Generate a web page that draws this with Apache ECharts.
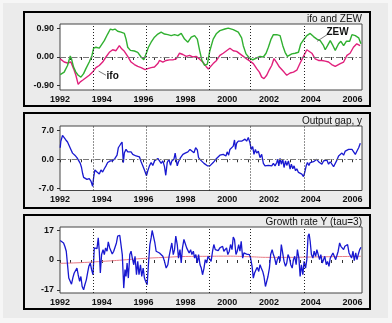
<!DOCTYPE html>
<html>
<head>
<meta charset="UTF-8">
<script src="https://cdn.jsdelivr.net/npm/echarts@6/dist/echarts.min.js"></script>
<style>
  html, body { margin: 0; padding: 0; background: #f6f6f6; }
  #chart { width: 392px; height: 323px; }
</style>
</head>
<body>
<div id="chart"></div>
<script>
// business cycle turning points (vertical dotted lines)
var turningPoints = [1993.58, 1996.15, 1999.15, 2001.09, 2003.69];

// panel titles
var titles = ['ifo and ZEW', 'Output gap, y', 'Growth rate Y (tau=3)'];

// ZEW expectations (scaled)
var zew = [
  [1992.01,-0.56],[1992.20,-0.48],[1992.36,-0.27],[1992.49,0.03],[1992.55,-0.06],[1992.65,-0.32],
  [1992.76,-0.48],[1992.87,-0.58],[1993.00,-0.64],[1993.13,-0.53],[1993.24,-0.37],[1993.40,-0.16],
  [1993.53,0.05],[1993.61,0.28],[1993.72,0.31],[1993.88,0.28],[1993.96,0.36],[1994.12,0.52],
  [1994.28,0.73],[1994.41,0.89],[1994.52,0.86],[1994.63,0.89],[1994.76,0.82],[1994.92,0.79],
  [1995.08,0.75],[1995.16,0.57],[1995.24,0.31],[1995.37,0.21],[1995.56,0.19],[1995.72,0.15],
  [1995.88,0.00],[1996.01,-0.09],[1996.12,0.10],[1996.23,0.31],[1996.36,0.47],[1996.52,0.63],
  [1996.68,0.73],[1996.84,0.79],[1997.00,0.73],[1997.16,0.71],[1997.32,0.68],[1997.48,0.71],
  [1997.64,0.68],[1997.80,0.75],[1997.96,0.57],[1998.12,0.47],[1998.28,0.63],[1998.44,0.68],
  [1998.57,0.57],[1998.68,0.21],[1998.79,-0.11],[1998.92,-0.27],[1999.05,-0.23],[1999.17,0.20],
  [1999.33,0.57],[1999.49,0.75],[1999.65,0.84],[1999.89,0.89],[2000.05,0.92],[2000.29,0.87],
  [2000.53,0.79],[2000.69,0.61],[2000.77,0.36],[2000.90,0.10],[2001.06,-0.03],[2001.22,-0.09],
  [2001.38,-0.04],[2001.57,0.02],[2001.73,0.00],[2001.86,0.12],[2001.97,0.31],[2002.10,0.57],
  [2002.21,0.71],[2002.37,0.71],[2002.53,0.68],[2002.66,0.36],[2002.77,0.15],[2002.88,0.02],
  [2003.09,0.10],[2003.25,0.12],[2003.41,0.15],[2003.52,0.42],[2003.65,0.54],[2003.81,0.68],
  [2003.97,0.75],[2004.13,0.65],[2004.29,0.57],[2004.45,0.52],[2004.61,0.36],[2004.69,0.23],
  [2004.80,0.36],[2004.93,0.52],[2005.06,0.36],[2005.17,0.21],[2005.33,0.42],[2005.44,0.50],
  [2005.57,0.36],[2005.70,0.50],[2005.86,0.50],[2005.97,0.71],[2006.13,0.68],[2006.29,0.61],
  [2006.40,0.42]
];

// ifo business climate (scaled)
var ifo = [
  [1992.01,-0.06],[1992.20,-0.16],[1992.36,-0.19],[1992.52,-0.16],[1992.65,-0.37],[1992.76,-0.58],
  [1992.87,-0.87],[1992.97,-0.79],[1993.08,-0.74],[1993.24,-0.66],[1993.40,-0.58],[1993.56,-0.48],
  [1993.72,-0.34],[1993.88,-0.27],[1994.04,-0.16],[1994.20,0.00],[1994.36,0.15],[1994.52,0.23],
  [1994.68,0.20],[1994.84,0.36],[1994.95,0.26],[1995.08,0.18],[1995.24,0.02],[1995.40,-0.16],
  [1995.56,-0.24],[1995.72,-0.30],[1995.88,-0.34],[1996.07,-0.40],[1996.20,-0.37],[1996.36,-0.34],
  [1996.52,-0.32],[1996.68,-0.21],[1996.76,-0.11],[1996.92,-0.16],[1997.08,-0.11],[1997.24,-0.09],
  [1997.40,-0.09],[1997.56,-0.06],[1997.72,0.12],[1997.88,0.08],[1998.04,0.02],[1998.20,0.05],
  [1998.35,0.00],[1998.51,0.02],[1998.67,-0.06],[1998.83,-0.16],[1998.99,-0.30],[1999.10,-0.38],
  [1999.33,-0.21],[1999.49,-0.11],[1999.65,0.05],[1999.81,0.12],[1999.97,0.20],[2000.13,0.28],
  [2000.29,0.20],[2000.45,0.18],[2000.61,0.10],[2000.77,0.02],[2000.93,-0.06],[2001.09,-0.13],
  [2001.25,-0.21],[2001.41,-0.37],[2001.54,-0.48],[2001.65,-0.64],[2001.76,-0.69],[2001.89,-0.58],
  [2002.02,-0.40],[2002.13,-0.27],[2002.24,-0.05],[2002.37,-0.18],[2002.50,-0.32],[2002.61,-0.40],
  [2002.72,-0.48],[2002.85,-0.58],[2003.01,-0.51],[2003.17,-0.48],[2003.33,-0.42],[2003.49,-0.19],
  [2003.65,0.02],[2003.81,0.23],[2003.89,0.29],[2004.05,0.12],[2004.21,-0.06],[2004.37,-0.11],
  [2004.53,-0.11],[2004.69,-0.13],[2004.85,-0.16],[2005.00,-0.24],[2005.17,-0.30],[2005.25,-0.34],
  [2005.41,-0.21],[2005.57,-0.16],[2005.73,0.05],[2005.88,0.12],[2006.04,0.31],[2006.20,0.42],
  [2006.36,0.36]
];

// output gap y
var outputGap = [
  [1992.01,2.8],[1992.04,4.4],[1992.12,5.8],[1992.20,5.5],[1992.28,4.7],[1992.36,4.2],[1992.44,4.0],
  [1992.52,2.4],[1992.60,1.5],[1992.65,1.8],[1992.71,1.0],[1992.81,0.4],[1992.87,0.0],[1992.97,-1.0],
  [1993.03,-2.0],[1993.08,-3.4],[1993.13,-4.4],[1993.19,-4.2],[1993.29,-4.9],[1993.40,-4.7],[1993.48,-5.3],
  [1993.56,-6.6],[1993.61,-4.4],[1993.67,-2.6],[1993.77,-3.1],[1993.88,-3.6],[1993.96,-2.6],[1994.04,-3.1],
  [1994.12,-2.3],[1994.20,-1.6],[1994.28,-0.8],[1994.41,-0.4],[1994.52,-0.4],[1994.63,0.2],[1994.73,1.0],
  [1994.79,2.8],[1994.89,3.6],[1994.97,4.2],[1995.03,-0.8],[1995.08,1.6],[1995.16,2.4],[1995.24,1.8],
  [1995.32,2.0],[1995.40,1.8],[1995.48,1.2],[1995.56,1.6],[1995.64,0.8],[1995.72,0.4],[1995.80,0.6],
  [1995.88,-0.6],[1995.96,-1.6],[1996.04,-2.6],[1996.14,-4.0],[1996.20,-2.8],[1996.28,-1.6],[1996.36,-0.8],
  [1996.44,-1.5],[1996.52,-0.4],[1996.60,-0.8],[1996.68,0.2],[1996.76,-0.4],[1996.84,-1.0],[1996.92,-0.4],
  [1997.00,-1.8],[1997.06,-3.9],[1997.13,-0.8],[1997.21,0.0],[1997.29,-1.5],[1997.35,-0.4],[1997.45,0.0],
  [1997.51,1.5],[1997.56,1.8],[1997.61,-1.6],[1997.67,-0.6],[1997.77,0.4],[1997.88,1.2],[1997.99,1.5],
  [1998.12,1.8],[1998.22,2.4],[1998.31,2.0],[1998.41,1.6],[1998.49,2.8],[1998.57,2.3],[1998.63,0.4],
  [1998.73,-0.2],[1998.81,0.0],[1998.89,-1.0],[1998.97,-0.6],[1999.05,-1.6],[1999.17,-1.6],[1999.25,-1.2],
  [1999.33,-0.8],[1999.41,-0.4],[1999.49,0.2],[1999.57,0.4],[1999.65,1.0],[1999.73,0.8],[1999.81,1.2],
  [1999.89,1.6],[1999.94,0.8],[2000.00,1.8],[2000.07,1.0],[2000.13,2.4],[2000.21,2.0],[2000.29,3.2],
  [2000.35,4.7],[2000.40,2.4],[2000.45,3.9],[2000.53,4.4],[2000.61,4.2],[2000.69,4.4],[2000.77,4.7],
  [2000.85,4.9],[2000.93,4.4],[2001.01,5.3],[2001.09,4.0],[2001.15,2.4],[2001.22,3.1],[2001.28,1.2],
  [2001.35,2.4],[2001.41,1.5],[2001.49,2.0],[2001.57,0.4],[2001.65,1.2],[2001.73,-1.0],[2001.81,-1.6],
  [2001.89,-2.0],[2001.97,-1.5],[2002.05,-1.2],[2002.13,-1.6],[2002.21,-1.0],[2002.29,-1.6],[2002.37,-0.8],
  [2002.42,0.0],[2002.47,-1.6],[2002.53,0.2],[2002.59,-1.2],[2002.66,0.0],[2002.72,-2.0],[2002.79,-0.4],
  [2002.85,-1.5],[2002.93,-0.4],[2003.01,-2.4],[2003.07,-1.2],[2003.14,-2.3],[2003.20,-1.6],[2003.27,-2.8],
  [2003.33,-2.3],[2003.41,-3.2],[2003.49,-2.8],[2003.57,-3.6],[2003.65,-4.2],[2003.71,-3.2],[2003.78,-1.6],
  [2003.84,-0.8],[2003.91,-1.5],[2003.97,-0.8],[2004.05,-1.2],[2004.13,-0.6],[2004.21,-1.0],[2004.29,0.0],
  [2004.37,-0.6],[2004.45,-0.2],[2004.53,-1.2],[2004.61,-0.4],[2004.69,-0.8],[2004.77,-0.2],[2004.85,-1.2],
  [2004.93,-0.6],[2005.01,-0.8],[2005.09,-1.8],[2005.17,-1.5],[2005.25,-0.2],[2005.33,0.8],[2005.41,0.4],
  [2005.49,1.5],[2005.57,1.0],[2005.65,2.0],[2005.73,1.6],[2005.81,2.4],[2005.89,2.0],[2005.97,2.4],
  [2006.05,2.3],[2006.13,1.2],[2006.21,2.0],[2006.29,2.8],[2006.37,3.9]
];

// growth rate Y (tau=3)
var growth = [
  [1992.01,11.1],[1992.07,11.7],[1992.17,9.7],[1992.23,7.8],[1992.30,5.0],[1992.36,-2.7],[1992.42,-10.3],
  [1992.49,-11.3],[1992.55,-13.8],[1992.62,-9.9],[1992.68,-7.4],[1992.74,-6.5],[1992.81,-4.6],[1992.87,-8.4],
  [1992.94,-12.2],[1993.00,-9.4],[1993.06,-15.1],[1993.13,-17.0],[1993.19,-14.1],[1993.26,-11.3],[1993.32,-7.4],
  [1993.38,-3.6],[1993.45,-1.7],[1993.51,-5.5],[1993.58,-8.4],[1993.64,6.9],[1993.70,7.8],[1993.77,6.5],
  [1993.83,12.6],[1993.88,5.0],[1993.93,-7.4],[1993.99,3.1],[1994.06,5.9],[1994.12,3.1],[1994.18,6.9],
  [1994.25,5.0],[1994.31,10.3],[1994.38,6.9],[1994.44,5.9],[1994.50,3.4],[1994.57,5.0],[1994.63,5.9],
  [1994.70,9.7],[1994.76,13.6],[1994.86,14.1],[1994.92,13.6],[1994.98,3.1],[1995.05,-16.0],[1995.11,-5.5],
  [1995.16,-9.4],[1995.21,-1.7],[1995.27,-10.3],[1995.34,3.1],[1995.40,5.0],[1995.46,1.1],[1995.53,-2.7],
  [1995.59,2.1],[1995.66,-8.4],[1995.72,-0.8],[1995.78,-8.4],[1995.85,-2.7],[1995.91,-9.4],[1995.98,-4.6],
  [1996.04,-10.3],[1996.10,-12.2],[1996.17,-14.1],[1996.23,-2.7],[1996.30,8.8],[1996.36,12.6],[1996.41,16.8],
  [1996.47,13.6],[1996.54,9.7],[1996.60,5.0],[1996.68,5.9],[1996.76,4.0],[1996.84,5.0],[1996.92,2.1],
  [1997.00,-0.8],[1997.08,-4.6],[1997.16,-2.7],[1997.22,2.1],[1997.29,3.1],[1997.35,9.7],[1997.42,3.1],
  [1997.48,5.9],[1997.54,13.6],[1997.61,8.8],[1997.67,1.1],[1997.74,5.9],[1997.80,-1.7],[1997.86,6.9],
  [1997.93,11.7],[1997.99,10.7],[1998.06,6.9],[1998.12,5.9],[1998.18,4.0],[1998.25,5.9],[1998.31,3.1],
  [1998.38,5.0],[1998.44,1.1],[1998.50,3.1],[1998.57,-1.7],[1998.63,3.1],[1998.70,-2.7],[1998.76,-4.6],
  [1998.82,-8.4],[1998.89,-4.6],[1998.95,0.2],[1999.02,-1.7],[1999.08,2.1],[1999.17,1.5],[1999.23,-0.8],
  [1999.30,5.0],[1999.36,8.8],[1999.43,5.9],[1999.49,6.9],[1999.57,5.3],[1999.65,6.9],[1999.71,5.9],
  [1999.78,7.8],[1999.84,5.0],[1999.91,4.0],[1999.97,6.9],[2000.03,3.1],[2000.10,5.0],[2000.16,8.8],
  [2000.23,5.9],[2000.29,13.0],[2000.35,11.7],[2000.42,3.1],[2000.48,5.0],[2000.55,8.8],[2000.61,5.0],
  [2000.67,10.7],[2000.74,1.1],[2000.80,4.0],[2000.87,3.1],[2000.93,3.4],[2000.99,4.0],[2001.06,3.1],
  [2001.12,1.1],[2001.19,-3.6],[2001.25,-10.3],[2001.31,-7.4],[2001.38,-5.5],[2001.44,-4.2],[2001.51,-6.5],
  [2001.57,-2.7],[2001.63,-4.6],[2001.70,-6.5],[2001.76,-9.4],[2001.83,-15.1],[2001.89,-15.7],[2001.95,-9.4],
  [2002.02,-4.6],[2002.08,3.1],[2002.15,5.9],[2002.21,3.1],[2002.27,1.1],[2002.34,-2.7],[2002.40,0.2],
  [2002.47,2.1],[2002.53,-0.8],[2002.59,8.8],[2002.66,7.8],[2002.72,-0.8],[2002.79,-3.6],[2002.85,-1.7],
  [2002.91,3.1],[2002.98,1.1],[2003.04,-2.7],[2003.11,-4.6],[2003.17,0.2],[2003.23,2.1],[2003.30,-2.7],
  [2003.36,5.9],[2003.43,1.1],[2003.49,-9.4],[2003.55,-2.7],[2003.62,-8.4],[2003.68,-0.8],[2003.75,-4.6],
  [2003.81,0.2],[2003.87,13.6],[2003.92,14.9],[2003.97,10.7],[2004.03,3.1],[2004.10,1.1],[2004.16,5.0],
  [2004.23,2.1],[2004.29,5.9],[2004.35,5.0],[2004.42,0.2],[2004.48,3.1],[2004.55,-1.7],[2004.61,0.2],
  [2004.67,2.1],[2004.74,-2.7],[2004.80,-0.8],[2004.87,-3.6],[2004.93,1.1],[2004.99,0.2],[2005.06,4.0],
  [2005.12,3.1],[2005.19,0.2],[2005.25,1.1],[2005.31,5.0],[2005.38,9.7],[2005.44,7.8],[2005.51,6.9],
  [2005.57,5.9],[2005.63,7.8],[2005.70,6.9],[2005.76,8.8],[2005.83,4.0],[2005.89,5.0],[2005.95,1.1],
  [2006.02,5.0],[2006.08,-0.4],[2006.15,4.0],[2006.21,0.2],[2006.27,3.1],[2006.34,5.9],[2006.40,7.3]
];

// trend of growth rate (red line)
var growthTrend = [
  [1992.0,-1.9],[1993.0,-1.5],[1994.0,-0.8],[1995.0,0.0],[1996.0,0.9],[1997.0,1.5],[1998.0,2.0],
  [1999.0,2.1],[2000.0,2.2],[2001.0,1.9],[2002.0,1.5],[2003.0,1.5],[2004.0,1.7],[2005.0,1.9],[2006.4,2.1]
];

// y-axis tick labels per panel
var yTicks = [[-0.9, 0, 0.9], [-7, 0, 7], [-17, 0, 17]];
var yDigits = [2, 1, 0];
var yRange = [[-1.05, 1.05], [-7.6, 8.1], [-18.8, 18.8]];

var font = 'Liberation Sans';
var chart = echarts.init(document.getElementById('chart'));

var gridTops = [24, 126, 227];
var gridHeights = [66, 64.5, 66];
var panelBoxes = [[12, 94], [113, 95], [215, 94]];

var grids = [], xAxes = [], yAxes = [], titleList = [], graphics = [];

graphics.push({
  type: 'rect', z: -2,
  shape: { x: 3, y: 3, width: 385, height: 315 },
  style: { fill: '#ebebeb', stroke: null }
});

for (var i = 0; i < 3; i++) {
  graphics.push({
    type: 'rect', z: -1,
    shape: { x: 24, y: panelBoxes[i][0], width: 346, height: panelBoxes[i][1] },
    style: { fill: '#ebebeb', stroke: '#000', lineWidth: 2 }
  });
  grids.push({
    left: 60, width: 302, top: gridTops[i], height: gridHeights[i],
    show: true, backgroundColor: '#fff', borderColor: '#444', borderWidth: 1
  });
  xAxes.push({
    type: 'value', gridIndex: i, min: 1992, max: 2006.45, interval: 0.5,
    axisLine: { show: false },
    axisTick: { show: true, inside: false, length: 3, lineStyle: { color: '#333' } },
    splitLine: { show: false },
    axisLabel: {
      margin: 5, color: '#111', fontFamily: font, fontSize: 9, fontWeight: 'bold',
      showMaxLabel: false,
      formatter: function (v) { return Math.abs(v % 2) < 1e-6 ? String(v) : ''; }
    }
  });
  (function (k) {
    yAxes.push({
      type: 'value', gridIndex: k, min: yRange[k][0], max: yRange[k][1],
      axisLine: { show: false },
      splitLine: { show: false },
      axisTick: { show: true, length: 3, customValues: yTicks[k], lineStyle: { color: '#333' } },
      axisLabel: {
        margin: 6, color: '#111', fontFamily: font, fontSize: 9, fontWeight: 'bold',
        customValues: yTicks[k],
        formatter: function (v) { return v.toFixed(yDigits[k]); }
      }
    });
  })(i);
  titleList.push({
    text: titles[i], right: 30, top: gridTops[i] - 10, padding: 0,
    textStyle: { fontFamily: font, fontSize: 10, fontWeight: 'normal', color: '#111' }
  });
}

function refLines(withZero, extra) {
  var d = turningPoints.map(function (t) {
    return { xAxis: t, lineStyle: { type: [1, 2], color: '#222', width: 1 } };
  });
  if (withZero) d.push({ yAxis: 0, lineStyle: { type: [6, 2, 1.5, 2], color: '#777', width: 1 } });
  return {
    silent: true, symbol: 'none', animation: false,
    label: { show: false }, data: d.concat(extra || [])
  };
}

function leader(a, b) {
  return [{ coord: a, lineStyle: { type: 'solid', color: '#555', width: 0.8 } }, { coord: b }];
}

function tag(text, c) {
  return {
    symbol: 'circle', symbolSize: 1, itemStyle: { color: 'rgba(0,0,0,0)' }, animation: false,
    label: { show: true, position: 'inside', formatter: text, color: '#111',
             fontFamily: font, fontSize: 10, fontWeight: 'bold' },
    data: [{ coord: c }]
  };
}

var series = [
  {
    name: 'ifo', type: 'line', xAxisIndex: 0, yAxisIndex: 0, data: ifo,
    showSymbol: false, lineStyle: { color: '#e0207c', width: 1.4 },
    markLine: refLines(true, [leader([1993.85, -0.45], [1994.2, -0.58])]),
    markPoint: tag('ifo', [1994.52, -0.6])
  },
  {
    name: 'ZEW', type: 'line', xAxisIndex: 0, yAxisIndex: 0, data: zew,
    showSymbol: false, lineStyle: { color: '#30b030', width: 1.4 },
    markLine: { silent: true, symbol: 'none', label: { show: false }, data: [leader([2004.78, 0.71], [2004.3, 0.5])] },
    markPoint: tag('ZEW', [2005.28, 0.79])
  },
  {
    name: 'Output gap', type: 'line', xAxisIndex: 1, yAxisIndex: 1, data: outputGap,
    showSymbol: false, lineStyle: { color: '#1818d0', width: 1.3 },
    markLine: refLines(true)
  },
  {
    name: 'Trend', type: 'line', xAxisIndex: 2, yAxisIndex: 2, data: growthTrend,
    showSymbol: false, smooth: true, lineStyle: { color: '#e87a84', width: 1 }
  },
  {
    name: 'Growth', type: 'line', xAxisIndex: 2, yAxisIndex: 2, data: growth,
    showSymbol: false, lineStyle: { color: '#1818d0', width: 1.3 },
    markLine: refLines(false)
  }
];

chart.setOption({
  animation: false,
  backgroundColor: '#f6f6f6',
  title: titleList,
  graphic: graphics,
  grid: grids,
  xAxis: xAxes,
  yAxis: yAxes,
  series: series
});
</script>
</body>
</html>
